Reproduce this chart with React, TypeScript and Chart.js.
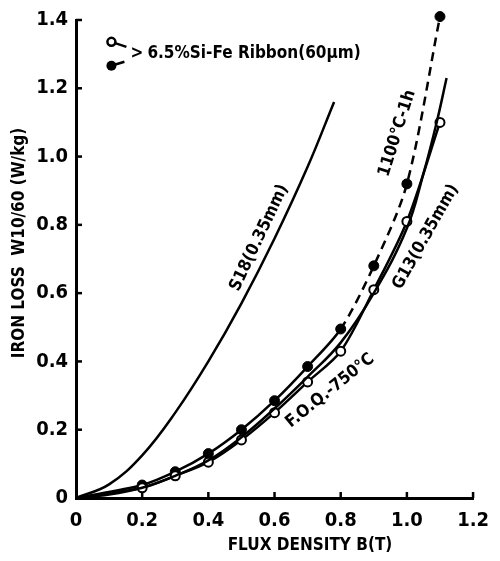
import React, { useEffect, useRef } from "react";
import { Chart, registerables } from "chart.js";

Chart.register(...registerables);

const X_TICKS = [0, 0.2, 0.4, 0.6, 0.8, 1.0, 1.2];
const Y_TICKS = [0, 0.2, 0.4, 0.6, 0.8, 1.0, 1.2, 1.4];

const RIBBON_B = [0, 0.2, 0.3, 0.4, 0.5, 0.6, 0.7, 0.8, 0.9, 1.0, 1.1];
const FOQ_LOSS = [0, 0.03, 0.065, 0.105, 0.17, 0.25, 0.34, 0.43, 0.61, 0.81, 1.1];
const ANNEAL_LOSS = [0, 0.038, 0.077, 0.13, 0.2, 0.285, 0.385, 0.495, 0.68, 0.92, 1.41];

const S18_B = [0, 0.1, 0.2, 0.3, 0.4, 0.5, 0.6, 0.7, 0.78];
const S18_LOSS = [0, 0.04, 0.125, 0.25, 0.4, 0.57, 0.76, 0.97, 1.16];

const G13_B = [0, 0.1, 0.2, 0.3, 0.4, 0.5, 0.6, 0.7, 0.8, 0.9, 1.0, 1.05, 1.09, 1.12];
const G13_LOSS = [0, 0.01, 0.03, 0.065, 0.11, 0.178, 0.262, 0.355, 0.455, 0.6, 0.79, 0.95, 1.1, 1.23];

const FONT = "'DejaVu Sans Condensed', 'DejaVu Sans', sans-serif";

const toXY = (xs: number[], ys: number[]) => xs.map((x, i) => ({ x, y: ys[i] }));

const overlay = {
  id: "overlay",
  afterDraw(chart: any) {
    const ctx = chart.ctx;
    const xs = chart.scales.x;
    const ys = chart.scales.y;
    const ca = chart.chartArea;
    const px = (v: number) => xs.getPixelForValue(v);
    const py = (v: number) => ys.getPixelForValue(v);
    ctx.save();
    ctx.strokeStyle = "#000";
    ctx.fillStyle = "#000";
    ctx.lineWidth = 2.5;
    X_TICKS.forEach((t) => {
      if (t === 0) return;
      ctx.beginPath();
      ctx.moveTo(px(t), ca.bottom);
      ctx.lineTo(px(t), ca.bottom - 6);
      ctx.stroke();
    });
    Y_TICKS.forEach((t) => {
      if (t === 0) return;
      ctx.beginPath();
      ctx.moveTo(ca.left, py(t));
      ctx.lineTo(ca.left + 6, py(t));
      ctx.stroke();
    });

    const rotText = (txt: string, x: number, y: number, deg: number, size: number) => {
      ctx.save();
      ctx.translate(x, y);
      ctx.rotate((deg * Math.PI) / 180);
      ctx.font = `bold ${size}px ${FONT}`;
      ctx.textAlign = "center";
      ctx.textBaseline = "middle";
      ctx.fillText(txt, 0, 0);
      ctx.restore();
    };

    rotText("FLUX DENSITY B(T)", 310, 546, 0, 17);
    rotText("IRON LOSS  W10/60 (W/kg)", 20, 243, -90, 17);

    rotText("S18(0.35mm)", px(0.554), py(0.762), -64.7, 17);
    rotText("1100°C-1h", px(0.971), py(1.068), -72.5, 17);
    rotText("G13(0.35mm)", px(1.057), py(0.765), -60.6, 17);
    rotText("F.O.Q.-750°C", px(0.768), py(0.314), -38.8, 17);

    const ox = px(0.107), oy = py(1.336);
    const fx = px(0.107), fy = py(1.266);
    ctx.lineWidth = 2.5;
    ctx.beginPath();
    ctx.moveTo(ox, oy);
    ctx.lineTo(ox + 15, oy + 5);
    ctx.moveTo(fx, fy);
    ctx.lineTo(fx + 13, fy - 4);
    ctx.stroke();
    ctx.beginPath();
    ctx.arc(ox, oy, 4, 0, Math.PI * 2);
    ctx.fillStyle = "#fff";
    ctx.fill();
    ctx.stroke();
    ctx.beginPath();
    ctx.arc(fx, fy, 5, 0, Math.PI * 2);
    ctx.fillStyle = "#000";
    ctx.fill();
    ctx.font = `bold 17px ${FONT}`;
    ctx.textAlign = "left";
    ctx.textBaseline = "middle";
    ctx.fillText(">", ox + 19, (oy + fy) / 2);
    ctx.fillText("6.5%Si-Fe Ribbon(60μm)", ox + 36, (oy + fy) / 2);
    ctx.restore();
  },
};

export default function App() {
  const ref = useRef<HTMLCanvasElement | null>(null);
  useEffect(() => {
    if (!ref.current) return;
    const chart = new Chart(ref.current, {
      type: "line",
      data: {
        datasets: [
          {
            label: "S18(0.35mm)",
            data: toXY(S18_B, S18_LOSS),
            borderColor: "#000",
            borderWidth: 2.5,
            pointRadius: 0,
            tension: 0.4,
            clip: false,
          },
          {
            label: "G13(0.35mm)",
            data: toXY(G13_B, G13_LOSS),
            borderColor: "#000",
            borderWidth: 2.5,
            pointRadius: 0,
            tension: 0.4,
            clip: false,
          },
          {
            label: "F.O.Q.-750°C",
            data: toXY(RIBBON_B, FOQ_LOSS),
            borderColor: "#000",
            borderWidth: 2.5,
            pointRadius: RIBBON_B.map((b) => (b === 0 ? 0 : 4.5)),
            pointBackgroundColor: "#fff",
            pointBorderColor: "#000",
            pointBorderWidth: 2,
            tension: 0.3,
            clip: false,
          },
          {
            label: "1100°C-1h",
            data: toXY(RIBBON_B, ANNEAL_LOSS),
            borderColor: "#000",
            borderWidth: 2.5,
            pointRadius: RIBBON_B.map((b) => (b === 0 ? 0 : 5)),
            pointBackgroundColor: "#000",
            pointBorderColor: "#000",
            pointBorderWidth: 1,
            tension: 0.3,
            clip: false,
            segment: {
              borderDash: (c: any) => (c.p0.parsed.x >= 0.79 ? [9, 6] : undefined),
            },
          },
        ] as any,
      },
      options: {
        animation: false,
        responsive: true,
        maintainAspectRatio: false,
        layout: { padding: { top: 17, right: 21, left: 0, bottom: 0 } },
        plugins: { legend: { display: false }, tooltip: { enabled: false } },
        scales: {
          x: {
            type: "linear",
            min: 0,
            max: 1.2,
            afterFit: (s: any) => {
              s.height = 63;
            },
            afterBuildTicks: (s: any) => {
              s.ticks = X_TICKS.map((v) => ({ value: v }));
            },
            grid: { display: false, drawTicks: false },
            border: { display: true, width: 3, color: "#000" },
            ticks: {
              padding: 11,
              color: "#000",
              font: { family: FONT, size: 20, weight: "bold" },
              callback: (v: any) => (Number(v) === 0 ? "0" : Number(v).toFixed(1)),
              maxRotation: 0,
            },
          },
          y: {
            type: "linear",
            min: 0,
            max: 1.4,
            afterFit: (s: any) => {
              s.width = 76;
            },
            afterBuildTicks: (s: any) => {
              s.ticks = Y_TICKS.map((v) => ({ value: v }));
            },
            grid: { display: false, drawTicks: false },
            border: { display: true, width: 3, color: "#000" },
            ticks: {
              padding: 8,
              color: "#000",
              font: { family: FONT, size: 20, weight: "bold" },
              callback: (v: any) => (Number(v) === 0 ? "0" : Number(v).toFixed(1)),
            },
          },
        },
      },
      plugins: [overlay],
    });
    return () => chart.destroy();
  }, []);
  return (
    <div style={{ position: "absolute", left: 0, top: 0, width: 500, height: 561, background: "#fff" }}>
      <canvas ref={ref} />
    </div>
  );
}
